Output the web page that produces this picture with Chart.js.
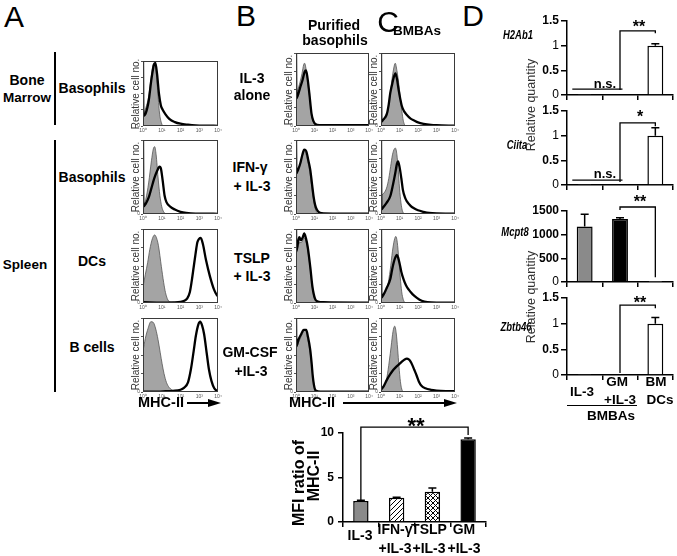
<!DOCTYPE html>
<html><head><meta charset="utf-8">
<script src="https://cdn.jsdelivr.net/npm/chart.js@4.4.1/dist/chart.umd.min.js"></script>
<style>
html,body{margin:0;padding:0;background:#fff;}
#fig{position:relative;width:677px;height:556px;overflow:hidden;background:#fff;font-family:'Liberation Sans',Arial,Helvetica,sans-serif;color:#000;}
#fig canvas{position:absolute;}
.t{position:absolute;white-space:nowrap;line-height:1;}
.ln{position:absolute;background:#000;}
</style></head><body><div id="fig"></div>
<script>
// ---------------- DATA ----------------
// flow histograms: [decade (0..4), % of max]
const histTicks = ['10\u2070','10\u00B9','10\u00B2','10\u00B3','10\u2074'];
const histYTicks = [0, 25, 50, 75, 100];

const histA1Control = [[0,16],[0.15,28],[0.3,45],[0.42,72],[0.52,92],[0.6,97],[0.68,90],[0.78,55],[0.88,20],[0.98,5],[1.08,0],[1.2,0]];
const histA1Stained = [[0,100],[0.02,16],[0.15,20],[0.3,38],[0.45,72],[0.58,94],[0.66,97],[0.75,80],[0.85,50],[0.95,32],[1.05,25],[1.2,18],[1.4,11],[1.7,6],[2.0,3.5],[2.4,2],[2.8,1],[3.3,0.5],[4,0.3]];
const histA2Control = [[0,10],[0.15,20],[0.3,42],[0.45,72],[0.55,88],[0.62,91],[0.7,80],[0.8,50],[0.9,25],[1.0,10],[1.1,3],[1.2,0]];
const histA2Stained = [[0,100],[0.02,10],[0.15,14],[0.3,22],[0.45,35],[0.6,48],[0.75,58],[0.88,64],[0.95,62],[1.05,45],[1.15,25],[1.25,16],[1.45,10],[1.7,6],[2.0,3],[2.3,1.5],[2.8,0.5],[4,0.3]];
const histA3Control = [[0,22],[0.12,38],[0.25,55],[0.36,72],[0.5,87],[0.62,92],[0.72,88],[0.82,78],[0.98,49],[1.1,28],[1.2,14],[1.33,4],[1.5,1],[1.7,0]];
const histA3Stained = [[0,1],[1.0,0.5],[1.6,0.8],[2.0,1.5],[2.2,3],[2.35,6],[2.5,15],[2.6,30],[2.7,48],[2.8,66],[2.9,82],[3.0,87],[3.08,88],[3.2,79],[3.36,58],[3.57,36],[3.79,18],[3.93,11],[4,9]];
const histA4Control = [[0,55],[0.12,72],[0.27,86],[0.42,95],[0.55,94],[0.68,85],[0.8,71],[0.92,53],[1.02,38],[1.12,25],[1.25,13],[1.4,6],[1.6,2],[1.9,0]];
const histA4Stained = [[0,0.5],[0.8,0.5],[1.2,1],[1.6,1.5],[2.0,3],[2.2,6],[2.4,13],[2.55,30],[2.7,55],[2.82,76],[2.95,91],[3.05,95],[3.15,90],[3.26,78],[3.4,52],[3.52,30],[3.65,15],[3.8,5],[3.92,2],[4,1]];

const histB1Control = [[0,45],[0.1,50],[0.22,60],[0.33,72],[0.42,84],[0.47,86],[0.55,78],[0.65,58],[0.73,42],[0.82,22],[0.9,10],[1.0,3],[1.1,0]];
const histB1Stained = [[0,100],[0.02,38],[0.1,42],[0.22,52],[0.36,63],[0.47,74],[0.55,76],[0.63,66],[0.73,45],[0.85,17],[0.95,7],[1.05,3],[1.3,1.2],[2,1],[4,1]];
const histB2Control = [[0,52],[0.1,60],[0.24,68],[0.35,80],[0.42,86],[0.5,84],[0.62,74],[0.75,58],[0.86,38],[0.96,20],[1.06,7],[1.15,2],[1.3,0]];
const histB2Stained = [[0,100],[0.02,55],[0.12,60],[0.24,69],[0.35,80],[0.45,87],[0.56,85],[0.68,72],[0.78,60],[0.88,40],[0.96,24],[1.05,12],[1.14,6],[1.25,2.5],[1.4,1],[2,0.5],[4,0.5]];
const histB3Control = [[0,65],[0.1,75],[0.2,82],[0.3,82],[0.4,86],[0.48,88],[0.58,80],[0.7,62],[0.8,42],[0.9,20],[1.0,7],[1.1,2],[1.2,0]];
const histB3Stained = [[0,100],[0.02,70],[0.1,80],[0.18,89],[0.27,85],[0.36,88],[0.45,94],[0.54,88],[0.64,76],[0.78,49],[0.9,22],[1.04,6],[1.2,2],[1.5,1],[4,0.5]];
const histB4Control = [[0,58],[0.14,67],[0.28,75],[0.42,82],[0.52,84],[0.64,72],[0.76,56],[0.86,35],[0.94,17],[1.02,6],[1.1,1],[1.2,0]];
const histB4Stained = [[0,100],[0.02,62],[0.14,71],[0.28,78],[0.42,84],[0.56,84],[0.66,74],[0.78,57],[0.86,38],[0.92,21],[0.98,10],[1.05,3],[1.2,1],[1.5,0.5],[4,0.5]];

const histC1Control = [[0,5],[0.15,8],[0.32,14],[0.42,28],[0.5,45],[0.6,65],[0.68,78],[0.77,86],[0.86,76],[0.95,60],[1.04,40],[1.13,20],[1.2,8],[1.27,2],[1.35,0]];
const histC1Stained = [[0,100],[0.02,6],[0.1,8],[0.32,17],[0.42,30],[0.5,45],[0.6,57],[0.68,66],[0.78,72],[0.86,65],[0.95,50],[1.05,36],[1.13,27],[1.25,20],[1.4,15],[1.6,10],[1.76,8],[2.0,5],[2.3,3],[2.7,1.5],[3.0,1],[4,0.5]];
const histC2Control = [[0,25],[0.15,28],[0.3,35],[0.42,48],[0.52,64],[0.62,80],[0.72,88],[0.78,89],[0.86,80],[0.93,60],[1.0,35],[1.08,15],[1.15,5],[1.25,0]];
const histC2Stained = [[0,100],[0.02,6],[0.15,10],[0.3,15],[0.5,24],[0.65,40],[0.77,55],[0.86,68],[0.92,71],[1.0,64],[1.1,48],[1.18,33],[1.3,22],[1.4,17],[1.6,11],[1.76,8],[2.0,5],[2.3,3],[2.6,1.5],[3.0,0.8],[4,0.5]];
const histC3Control = [[0,8],[0.2,12],[0.35,22],[0.5,45],[0.62,70],[0.72,85],[0.8,90],[0.88,82],[0.96,60],[1.04,35],[1.12,15],[1.2,5],[1.3,0]];
const histC3Stained = [[0,100],[0.02,7],[0.15,12],[0.3,20],[0.5,32],[0.6,45],[0.68,54],[0.78,62],[0.86,65],[0.94,60],[1.0,54],[1.1,42],[1.22,32],[1.35,24],[1.5,18],[1.7,12],[1.94,7],[2.2,3],[2.5,1],[3,0.5],[4,0.5]];
const histC4Control = [[0,5],[0.2,10],[0.32,20],[0.45,42],[0.55,62],[0.65,82],[0.74,89],[0.82,80],[0.9,58],[0.97,35],[1.05,14],[1.12,4],[1.22,0]];
const histC4Stained = [[0,3],[0.15,8],[0.31,16],[0.5,24],[0.67,30],[0.86,35],[1.0,38],[1.13,41],[1.28,44],[1.4,45],[1.5,44],[1.6,41],[1.7,36],[1.8,30],[1.93,22],[2.05,14],[2.2,8],[2.4,5],[2.7,3],[3.0,2],[3.5,1.2],[4,1]];

// qPCR (panel D)
const dCategoryLines = [['IL-3'], ['GM', '+IL-3'], ['BM', 'DCs']];
const dQtyTicks = [0, 0.5, 1, 1.5];
const mcpt8Ticks = [0, 500, 1000, 1500];
const h2ab1Values = [0.004, 0.01, 1.0];   const h2ab1Errors = [0, 0, 0.04];
const ciitaValues = [0.004, 0.012, 1.0];  const ciitaErrors = [0, 0, 0.16];
const mcpt8Values = [1170, 1330, 2];      const mcpt8Errors = [260, 30, 0];
const zbtb46Values = [0.003, 0.02, 1.0];  const zbtb46Errors = [0, 0, 0.12];

// MFI ratio
const mfiCategoryLines = [['IL-3'], ['IFN-\u03B3', '+IL-3'], ['TSLP', '+IL-3'], ['GM', '+IL-3']];
const mfiTicks = [0, 5, 10];
const mfiValues = [2.35, 2.72, 3.4, 9.3];
const mfiErrors = [0.1, 0.05, 0.42, 0.15];

// ---------------- HELPERS ----------------
const FONT = "'Liberation Sans', Arial, Helvetica, sans-serif";
Chart.defaults.font.family = FONT;
Chart.defaults.color = '#000';
const fig = document.getElementById('fig');

function T(s, x, y, size, opt = {}) {
  const d = document.createElement('div');
  d.className = 't';
  d.textContent = s;
  d.style.left = x + 'px';
  d.style.top = y + 'px';
  d.style.fontSize = size + 'px';
  d.style.fontWeight = opt.w || 'bold';
  if (opt.i) d.style.fontStyle = 'italic';
  if (opt.c) d.style.color = opt.c;
  let tf = 'translate(-50%,-50%)';
  if (opt.rot) tf += ' rotate(-90deg)';
  if (opt.sx) tf += ' scaleX(' + opt.sx + ')';
  d.style.transform = tf;
  fig.appendChild(d);
}
function L(x, y, w, h) {
  const d = document.createElement('div');
  d.className = 'ln';
  Object.assign(d.style, {left: x + 'px', top: y + 'px', width: w + 'px', height: h + 'px'});
  fig.appendChild(d);
}
function arrow(x1, x2, y) {
  L(x1, y - 0.75, x2 - x1 - 10, 1.5);
  const d = document.createElement('div');
  Object.assign(d.style, {position: 'absolute', left: (x2 - 13) + 'px', top: (y - 4) + 'px', width: 0, height: 0,
    borderTop: '4px solid transparent', borderBottom: '4px solid transparent', borderLeft: '13px solid #000'});
  fig.appendChild(d);
}
function place(cv, x, y, w, h) {
  cv.width = w; cv.height = h;
  Object.assign(cv.style, {left: x + 'px', top: y + 'px', width: w + 'px', height: h + 'px'});
  fig.appendChild(cv);
}
const toXY = arr => arr.map(p => ({x: p[0], y: p[1]}));

const framePlugin = {
  id: 'frame',
  afterDraw(chart) {
    const {ctx, chartArea: a} = chart;
    ctx.save();
    ctx.strokeStyle = '#3a3a3a';
    ctx.lineWidth = 1;
    ctx.strokeRect(Math.round(a.left) + 0.5, Math.round(a.top) + 0.5, Math.round(a.right - a.left) - 1, Math.round(a.bottom - a.top) - 1);
    ctx.restore();
  }
};

function makeHist(frame, ctrl, stain) {
  const [fl, ft, fr, fb] = frame;
  const padL = 14, padT = 3, padR = 8, padB = 12;
  const cv = document.createElement('canvas');
  place(cv, fl - padL, ft - padT, fr - fl + padL + padR, fb - ft + padT + padB);
  new Chart(cv, {
    type: 'line',
    data: {datasets: [
      {data: toXY(stain), borderColor: '#000', borderWidth: 2.3, fill: false, pointRadius: 0, cubicInterpolationMode: 'monotone'},
      {data: toXY(ctrl), borderColor: '#555', borderWidth: 0.8, backgroundColor: '#a4a4a4', fill: 'origin', pointRadius: 0, cubicInterpolationMode: 'monotone'}
    ]},
    options: {
      responsive: false, animation: false, events: [], devicePixelRatio: 1,
      layout: {padding: {left: 0, top: padT, right: padR, bottom: 0}},
      plugins: {legend: {display: false}, tooltip: {enabled: false}},
      scales: {
        x: {type: 'linear', min: 0, max: 4,
          afterFit(s) { s.height = padB; s.paddingLeft = 0; s.paddingRight = 0; },
          ticks: {stepSize: 1, autoSkip: false, maxRotation: 0, padding: 2, font: {size: 5}, color: '#555', callback: v => histTicks[v] || ''},
          grid: {display: false, drawTicks: false}, border: {display: false}},
        y: {min: histYTicks[0], max: histYTicks[histYTicks.length - 1],
          afterFit(s) { s.width = padL; s.paddingTop = 0; s.paddingBottom = 0; },
          ticks: {stepSize: histYTicks[1] - histYTicks[0], autoSkip: false, padding: 1, font: {size: 5}, color: '#555', callback: v => v === 0 ? '0' : ''},
          grid: {drawOnChartArea: false, drawTicks: true, tickLength: 2, color: '#555'}, border: {display: false}}
      }
    },
    plugins: [framePlugin]
  });
}

function annotPlugin(errors, brackets, nsLines) {
  return {
    id: 'annot',
    afterDatasetsDraw(chart) {
      const ctx = chart.ctx, xs = chart.scales.x, ys = chart.scales.y;
      const meta = chart.getDatasetMeta(0);
      const vals = chart.data.datasets[0].data;
      ctx.save();
      ctx.strokeStyle = '#000';
      ctx.lineWidth = 1.5;
      errors.forEach((e, i) => {
        if (!e) return;
        const bx = meta.data[i].x;
        const y0 = ys.getPixelForValue(vals[i]), y1 = ys.getPixelForValue(vals[i] + e);
        ctx.beginPath();
        ctx.moveTo(bx, y0); ctx.lineTo(bx, y1);
        ctx.moveTo(bx - 4, y1); ctx.lineTo(bx + 4, y1);
        ctx.stroke();
      });
      ctx.lineWidth = 1.3;
      brackets.forEach(b => {
        const xa = xs.getPixelForValue(b.from), xb = xs.getPixelForValue(b.to), yt = ys.getPixelForValue(b.top);
        ctx.beginPath();
        ctx.moveTo(xa, ys.getPixelForValue(b.fromY));
        ctx.lineTo(xa, yt); ctx.lineTo(xb, yt);
        ctx.lineTo(xb, ys.getPixelForValue(b.toY));
        ctx.stroke();
      });
      nsLines.forEach(n => {
        const y = ys.getPixelForValue(n.y);
        ctx.beginPath();
        ctx.moveTo(xs.getPixelForValue(n.from), y);
        ctx.lineTo(xs.getPixelForValue(n.to), y);
        ctx.stroke();
      });
      ctx.restore();
    }
  };
}

function makeBar(c) {
  const {area, yw, padT, padR, xh} = c;
  const cv = document.createElement('canvas');
  const left = area.l - yw, top = area.t - padT;
  place(cv, left, top, area.r + padR - left, area.b + xh - top);
  new Chart(cv, {
    type: 'bar',
    data: {labels: c.labels, datasets: [{data: c.values, backgroundColor: c.colors, borderColor: '#000', borderWidth: 1.5,
      barPercentage: c.barPct, categoryPercentage: 1}]},
    options: {
      responsive: false, animation: false, events: [], devicePixelRatio: 1,
      layout: {padding: {left: 0, top: padT, right: padR, bottom: 0}},
      plugins: {legend: {display: false}, tooltip: {enabled: false}},
      scales: {
        x: {offset: true,
          afterFit(s) { s.height = xh; s.paddingLeft = 0; s.paddingRight = 0; },
          ticks: {display: false},
          grid: {display: true, drawOnChartArea: false, offset: true, drawTicks: true, tickLength: 5, color: '#000', lineWidth: 1.5},
          border: {display: true, color: '#000', width: 1.5}},
        y: {min: c.ticks[0], max: c.ticks[c.ticks.length - 1],
          afterFit(s) { s.width = yw; s.paddingTop = 0; s.paddingBottom = 0; },
          ticks: {stepSize: c.ticks[1] - c.ticks[0], autoSkip: false, padding: c.tickPad, color: '#000',
            font: ctx => ({size: 12, weight: (c.thin.indexOf(ctx.tick ? ctx.tick.value : -1) >= 0) ? 'normal' : 'bold'}),
            callback: v => String(v)},
          grid: {drawOnChartArea: false, drawTicks: true, tickLength: c.tickLen, color: '#000', lineWidth: 1.5},
          border: {display: true, color: '#000', width: 1.5}}
      }
    },
    plugins: [annotPlugin(c.errors, c.brackets || [], c.ns || [])]
  });
}

function hatch(cross) {
  const c = document.createElement('canvas');
  c.width = c.height = 5;
  const g = c.getContext('2d');
  g.fillStyle = '#fff'; g.fillRect(0, 0, 5, 5);
  g.strokeStyle = '#000'; g.lineWidth = 1;
  g.beginPath();
  g.moveTo(0, 5); g.lineTo(5, 0);
  g.moveTo(-1, 1); g.lineTo(1, -1);
  g.moveTo(4, 6); g.lineTo(6, 4);
  if (cross) {
    g.moveTo(0, 0); g.lineTo(5, 5);
    g.moveTo(-1, 4); g.lineTo(1, 6);
    g.moveTo(4, -1); g.lineTo(6, 1);
  }
  g.stroke();
  return g.createPattern(c, 'repeat');
}

// ---------------- HISTOGRAMS ----------------
const colA = [143, 218], colB = [296, 369], colC = [381, 455];
const rowsA = [[61, 126], [140, 214], [229, 303], [318, 392]];
const rowsBC = [[53, 126], [140, 214], [229, 303], [318, 392]];
const histSets = [
  [colA, rowsA[0], histA1Control, histA1Stained], [colA, rowsA[1], histA2Control, histA2Stained],
  [colA, rowsA[2], histA3Control, histA3Stained], [colA, rowsA[3], histA4Control, histA4Stained],
  [colB, rowsBC[0], histB1Control, histB1Stained], [colB, rowsBC[1], histB2Control, histB2Stained],
  [colB, rowsBC[2], histB3Control, histB3Stained], [colB, rowsBC[3], histB4Control, histB4Stained],
  [colC, rowsBC[0], histC1Control, histC1Stained], [colC, rowsBC[1], histC2Control, histC2Stained],
  [colC, rowsBC[2], histC3Control, histC3Stained], [colC, rowsBC[3], histC4Control, histC4Stained]
];
histSets.forEach(([col, row, ctrl, stain]) => {
  makeHist([col[0], row[0], col[1], row[1]], ctrl, stain);
});

// ---------------- PANEL D ----------------
const dArea = (t, b) => ({l: 567, r: 673, t, b});
const dLabels = dCategoryLines.map(a => a.join(' '));
const dColors = ['#8a8a8a', '#000', '#fff'];
const dCommon = {yw: 38, padT: 20, padR: 4, xh: 8, labels: dLabels, colors: dColors, barPct: 0.45, tickLen: 6, tickPad: 2};
makeBar(Object.assign({}, dCommon, {area: dArea(21, 95), ticks: dQtyTicks, thin: [0, 1], values: h2ab1Values, errors: h2ab1Errors,
  brackets: [{from: 1, fromY: 0.1, to: 2, toY: 1.25, top: 1.3}], ns: [{from: -0.35, to: 1.07, y: 0.12}]}));
makeBar(Object.assign({}, dCommon, {area: dArea(111, 185), ticks: dQtyTicks, thin: [0, 1], values: ciitaValues, errors: ciitaErrors,
  brackets: [{from: 1, fromY: 0.06, to: 2, toY: 1.19, top: 1.26}], ns: [{from: -0.35, to: 1.07, y: 0.1}]}));
makeBar(Object.assign({}, dCommon, {area: dArea(211, 282), ticks: mcpt8Ticks, thin: [0], values: mcpt8Values, errors: mcpt8Errors,
  brackets: [{from: 1, fromY: 1520, to: 2, toY: 100, top: 1585}]}));
makeBar(Object.assign({}, dCommon, {area: dArea(298, 375), ticks: dQtyTicks, thin: [0, 1], values: zbtb46Values, errors: zbtb46Errors,
  brackets: [{from: 1, fromY: 0.04, to: 2, toY: 1.3, top: 1.36}]}));

// ---------------- MFI ----------------
makeBar({area: {l: 343, r: 486, t: 433, b: 522}, yw: 30, padT: 20, padR: 9, xh: 10,
  labels: mfiCategoryLines.map(a => a.join(' ')), values: mfiValues, errors: mfiErrors,
  colors: ['#8a8a8a', hatch(false), hatch(true), '#000'], barPct: 0.43, ticks: mfiTicks, thin: [],
  tickLen: 5, tickPad: 4, brackets: [{from: 0, fromY: 2.47, to: 3, toY: 9.78, top: 10.67}]});

// ---------------- TEXT ----------------
histSets.forEach(([col, row]) => {
  T('Relative cell no.', col[0] - 7, (row[0] + row[1]) / 2, 10, {w: 'normal', rot: true, c: '#333'});
});

T('A', 14, 17, 30, {w: 'normal'});
T('B', 246, 16, 30, {w: 'normal'});
T('C', 388, 22, 30, {w: 'normal'});
T('D', 473, 16, 30, {w: 'normal'});

T('Purified', 334, 25, 14);
T('basophils', 335, 40, 14);
T('BMBAs', 417, 31, 13.5);

T('Bone', 27, 80, 14);
T('Marrow', 27, 98, 13.5);
T('Basophils', 92, 88, 14);
T('Spleen', 25, 265, 13.5);
T('Basophils', 92, 177, 14);
T('DCs', 92, 261, 14);
T('B cells', 92, 347, 14);
L(54, 52, 2, 73);
L(54, 140, 2, 252);

T('IL-3', 252, 78, 14); T('alone', 252, 95, 14);
T('IFN-\u03B3', 250, 167, 14); T('+ IL-3', 252, 186, 14);
T('TSLP', 252, 258, 14); T('+ IL-3', 252, 276, 14);
T('GM-CSF', 250, 352, 14); T('+IL-3', 251, 371, 14);

T('MHC-II', 161, 402, 14.5); arrow(187, 221, 403);
T('MHC-II', 312, 402, 14.5); arrow(343, 457, 403);

T('H2Ab1', 518, 35, 13.5, {i: true, sx: 0.7});
T('Ciita', 517, 145, 13.5, {i: true, sx: 0.7});
T('Mcpt8', 515, 232, 13.5, {i: true, sx: 0.7});
T('Zbtb46', 516, 327, 13.5, {i: true, sx: 0.7});
T('Relative quantity', 531, 105, 12.5, {w: 'normal', rot: true, c: '#333'});
T('Relative quantity', 531, 297, 12.5, {w: 'normal', rot: true, c: '#333'});

T('**', 639, 27, 16); T('*', 640, 117, 16); T('**', 640, 202, 16); T('**', 640, 303, 16);
T('n.s.', 605, 83, 13); T('n.s.', 605, 173, 13);

T(dCategoryLines[0][0], 582, 392, 13.5);
T(dCategoryLines[1][0], 617, 382, 13.5); T(dCategoryLines[1][1], 620, 400, 13.5);
T(dCategoryLines[2][0], 656, 382, 13.5); T(dCategoryLines[2][1], 660, 400, 13.5);
L(567, 404.5, 70, 1.5);
T('BMBAs', 611, 416, 13.5);

T('MFI ratio of', 299, 483, 16, {rot: true});
T('MHC-II', 314, 476, 16, {rot: true});
T('**', 416, 426, 22);
T(mfiCategoryLines[0][0], 360, 535, 14);
[1, 2, 3].forEach((i, k) => {
  const cx = [395, 429, 464][k];
  T(mfiCategoryLines[i][0], cx, 529, 14);
  T(mfiCategoryLines[i][1], cx, 548, 14);
});
</script></body></html>
